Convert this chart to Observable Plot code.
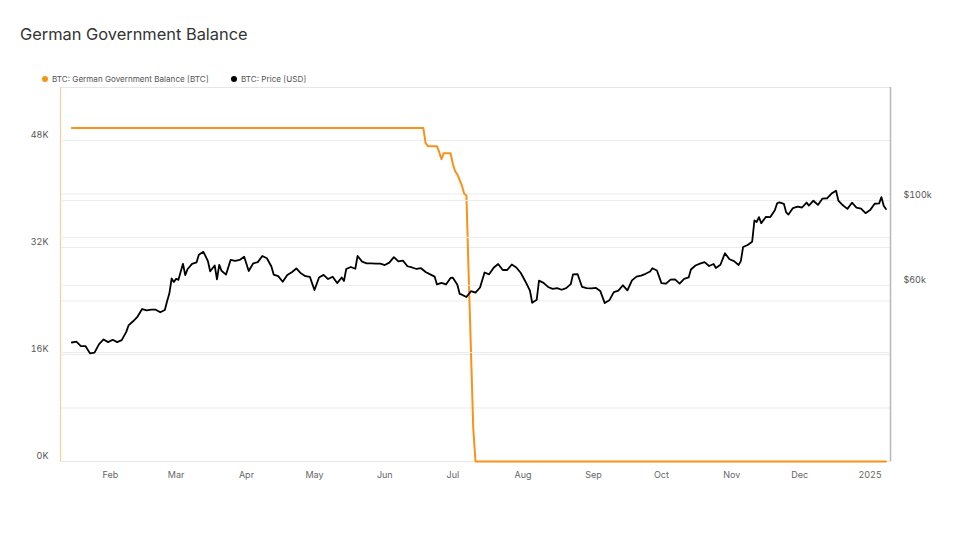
<!DOCTYPE html>
<html>
<head>
<meta charset="utf-8">
<script src="https://cdn.jsdelivr.net/npm/d3@7"></script>
<script src="https://cdn.jsdelivr.net/npm/@observablehq/plot@0.6"></script>
<style>
  html, body { margin: 0; padding: 0; background: #fff; }
  body { width: 960px; height: 540px; position: relative; overflow: hidden; font-family: Inter, "Noto Sans", sans-serif; }
  #title { position: absolute; left: 20px; top: 24px; font-size: 16.4px; font-weight: 400; color: #333; }
  #legend { position: absolute; left: 42px; top: 74px; font-size: 8.1px; color: #555; display: flex; gap: 0; }
  .item { display: flex; align-items: center; }
  .dot { width: 6px; height: 6px; border-radius: 50%; margin-right: 4px; }
  .layer { position: absolute; left: 0; top: 0; }
</style>
</head>
<body>
<div id="title">German Government Balance</div>
<div id="legend">
  <div class="item" style="width:189px"><span class="dot" style="background:#f7931a"></span>BTC: German Government Balance [BTC]</div>
  <div class="item"><span class="dot" style="background:#000"></span>BTC: Price [USD]</div>
</div>
<div id="a" class="layer"></div>
<div id="b" class="layer"></div>
<script>
// ---- Data ----
const balanceDates = ["2024-01-15","2024-06-18","2024-06-19","2024-06-20","2024-06-24","2024-06-25","2024-06-26","2024-06-27","2024-06-30","2024-07-01","2024-07-02","2024-07-03","2024-07-05","2024-07-06","2024-07-07","2024-07-08","2024-07-09","2024-07-10","2024-07-11","2025-01-08"];
const balanceBTC = [49858,49858,47600,47150,47150,46250,45200,46100,46100,44520,43410,42920,41270,40030,39780,27800,16500,5000,0,0];

const priceDates = ["2024-01-15","2024-01-17","2024-01-19","2024-01-21","2024-01-23","2024-01-25","2024-01-27","2024-01-29","2024-01-31","2024-02-02","2024-02-04","2024-02-06","2024-02-08","2024-02-09","2024-02-11","2024-02-13","2024-02-15","2024-02-17","2024-02-19","2024-02-21","2024-02-23","2024-02-25","2024-02-26","2024-02-27","2024-02-28","2024-02-29","2024-03-01","2024-03-02","2024-03-04","2024-03-05","2024-03-06","2024-03-08","2024-03-10","2024-03-11","2024-03-13","2024-03-14","2024-03-15","2024-03-16","2024-03-18","2024-03-19","2024-03-20","2024-03-21","2024-03-23","2024-03-25","2024-03-27","2024-03-29","2024-03-31","2024-04-02","2024-04-04","2024-04-06","2024-04-08","2024-04-10","2024-04-12","2024-04-13","2024-04-15","2024-04-17","2024-04-19","2024-04-21","2024-04-23","2024-04-25","2024-04-27","2024-04-29","2024-04-30","2024-05-01","2024-05-03","2024-05-05","2024-05-07","2024-05-09","2024-05-11","2024-05-13","2024-05-14","2024-05-15","2024-05-17","2024-05-19","2024-05-20","2024-05-22","2024-05-24","2024-05-26","2024-05-28","2024-05-30","2024-06-01","2024-06-03","2024-06-05","2024-06-07","2024-06-09","2024-06-11","2024-06-13","2024-06-15","2024-06-17","2024-06-19","2024-06-21","2024-06-23","2024-06-24","2024-06-26","2024-06-28","2024-06-30","2024-07-01","2024-07-03","2024-07-04","2024-07-05","2024-07-07","2024-07-09","2024-07-11","2024-07-13","2024-07-15","2024-07-17","2024-07-19","2024-07-21","2024-07-23","2024-07-25","2024-07-27","2024-07-29","2024-07-31","2024-08-02","2024-08-04","2024-08-05","2024-08-07","2024-08-08","2024-08-10","2024-08-12","2024-08-14","2024-08-16","2024-08-18","2024-08-20","2024-08-22","2024-08-23","2024-08-25","2024-08-27","2024-08-29","2024-08-31","2024-09-02","2024-09-04","2024-09-06","2024-09-08","2024-09-10","2024-09-12","2024-09-14","2024-09-16","2024-09-18","2024-09-20","2024-09-22","2024-09-24","2024-09-26","2024-09-27","2024-09-29","2024-10-01","2024-10-03","2024-10-05","2024-10-07","2024-10-09","2024-10-11","2024-10-13","2024-10-14","2024-10-16","2024-10-18","2024-10-20","2024-10-22","2024-10-24","2024-10-25","2024-10-27","2024-10-29","2024-10-31","2024-11-02","2024-11-04","2024-11-05","2024-11-06","2024-11-08","2024-11-10","2024-11-11","2024-11-12","2024-11-13","2024-11-14","2024-11-16","2024-11-18","2024-11-20","2024-11-21","2024-11-22","2024-11-24","2024-11-25","2024-11-26","2024-11-28","2024-11-30","2024-12-02","2024-12-04","2024-12-05","2024-12-07","2024-12-09","2024-12-11","2024-12-13","2024-12-15","2024-12-17","2024-12-18","2024-12-20","2024-12-22","2024-12-24","2024-12-26","2024-12-28","2024-12-30","2025-01-01","2025-01-03","2025-01-05","2025-01-06","2025-01-07","2025-01-08"];
const priceK = [42.5,42.7,41.6,41.6,39.8,40.0,42.1,43.3,42.6,43.2,42.6,43.1,45.3,47.1,48.3,49.7,52.0,51.6,51.8,51.8,51.0,51.7,54.5,57.1,62.5,61.2,62.4,62.0,68.3,63.8,66.1,68.3,68.9,72.1,73.4,71.4,69.4,65.3,67.6,62.2,67.9,65.5,64.0,69.9,69.5,69.9,71.3,65.4,68.5,69.0,71.6,70.6,67.2,64.0,63.4,61.3,63.8,64.9,66.4,64.5,63.4,63.1,60.6,58.3,62.9,63.9,62.3,63.2,60.8,62.9,61.6,66.2,67.0,66.3,71.6,69.2,68.5,68.5,68.4,68.4,67.8,68.8,71.1,69.3,69.6,67.3,66.8,66.2,66.5,65.0,64.1,63.2,60.3,60.9,60.3,62.7,62.8,60.2,57.0,56.7,55.9,57.9,57.4,59.2,64.8,64.1,66.7,68.2,65.8,65.8,68.0,66.8,64.6,61.4,58.1,54.0,55.0,61.7,60.9,59.4,58.7,59.0,58.4,59.0,60.4,64.1,64.2,59.4,59.0,58.9,59.1,58.0,53.9,54.8,57.6,58.1,60.0,58.2,61.8,63.2,63.6,64.3,65.2,66.5,65.6,60.8,60.6,62.1,62.2,60.6,62.4,62.9,66.0,67.6,68.4,69.0,67.4,68.2,66.6,67.9,72.8,70.2,69.4,67.8,69.4,75.6,76.5,78.0,88.7,87.9,90.5,87.2,90.6,90.5,94.3,98.4,98.9,98.0,93.1,91.9,95.6,96.4,95.9,98.8,97.0,99.9,97.4,101.2,101.4,104.3,106.1,100.0,97.2,95.1,98.7,95.8,95.3,92.7,94.4,98.1,98.3,102.1,96.9,95.0];

const balanceTicks = [0, 8000, 16000, 24000, 32000, 40000, 48000];
const balanceLabels = [0, 16000, 32000, 48000];
const priceGrid = [40000, 60000, 80000, 100000];
const priceLabels = [60000, 100000];

// ---- Build tables ----
const parse = d3.utcParse("%Y-%m-%d");
const balance = balanceDates.map((d, i) => ({date: parse(d), value: balanceBTC[i]}));
const price = priceDates.map((d, i) => ({date: parse(d), value: priceK[i] * 1000}));

const W = 960, H = 540;
const margins = {marginTop: 87, marginBottom: 79, marginLeft: 60, marginRight: 70};
const xDomain = [parse("2024-01-10"), parse("2025-01-10")];
const orange = "#f7931a";

const fmtMonth = d => d.getUTCMonth() === 0 ? d3.utcFormat("%Y")(d) : d3.utcFormat("%b")(d);

const A = Plot.plot({
  width: W, height: H, ...margins,
  style: {background: "transparent", fontFamily: "Inter, sans-serif", fontSize: "9px", color: "#555", overflow: "visible"},
  x: {type: "utc", domain: xDomain},
  y: {domain: [0, 55924]},
  marks: [
    Plot.gridY(balanceTicks, {stroke: "#ececec", strokeOpacity: 1}),
    Plot.frame({stroke: "#e6e6e6"}),
    Plot.axisY(balanceLabels, {tickSize: 0, tickPadding: 12, dy: -5, tickFormat: d => (d / 1000) + "K", fill: "#555", label: null}),
    Plot.axisX(d3.utcMonth.range(parse("2024-02-01"), parse("2025-01-10")), {tickSize: 0, tickPadding: 10, tickFormat: fmtMonth, fill: "#666", label: null}),
    Plot.ruleX([xDomain[0]], {stroke: "#f8cf9c", strokeWidth: 1.2}),
    Plot.ruleX([xDomain[1]], {stroke: "#b8b8b8", strokeWidth: 1.5}),
    Plot.line(balance, {x: "date", y: "value", stroke: orange, strokeWidth: 2})
  ]
});
document.getElementById("a").appendChild(A);

const B = Plot.plot({
  width: W, height: H, ...margins,
  style: {background: "transparent", fontFamily: "Inter, sans-serif", fontSize: "9px", color: "#555", overflow: "visible"},
  x: {type: "utc", domain: xDomain, axis: null},
  y: {type: "log", domain: [20740, 197700]},
  marks: [
    Plot.gridY(priceGrid, {stroke: "#ececec", strokeOpacity: 1}),
    Plot.axisY(priceLabels, {anchor: "right", tickSize: 0, tickPadding: 13, dy: -5, tickFormat: d => "$" + (d / 1000) + "k", fill: "#555", label: null}),
    Plot.line(price, {x: "date", y: "value", stroke: "#000", strokeWidth: 1.8})
  ]
});
document.getElementById("b").appendChild(B);
</script>
</body>
</html>
